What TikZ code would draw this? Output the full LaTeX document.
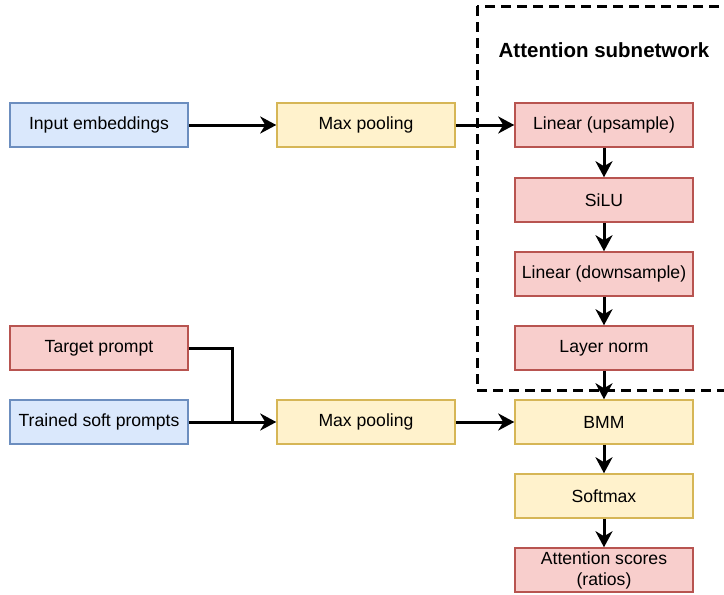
\documentclass[tikz,border=0pt]{standalone}
\usepackage{fontspec}
\setmainfont{Liberation Sans}
\usetikzlibrary{arrows.meta}
\definecolor{bluefill}{HTML}{DAE8FC}
\definecolor{bluedraw}{HTML}{6C8EBF}
\definecolor{yellowfill}{HTML}{FFF2CC}
\definecolor{yellowdraw}{HTML}{D6B656}
\definecolor{redfill}{HTML}{F8CECC}
\definecolor{reddraw}{HTML}{B85450}

\begin{document}
\begin{tikzpicture}[x=1pt, y=-1pt,
              box/.style = {shape=rectangle, draw, line width=1.5pt, minimum width=178pt,
                            minimum height=44pt, inner sep=0pt, align=center,
                            font=\fontsize{17.6}{21}\selectfont},
              bluebox/.style = {box, fill=bluefill, draw=bluedraw},
              yellowbox/.style = {box, fill=yellowfill, draw=yellowdraw},
              redbox/.style = {box, fill=redfill, draw=reddraw},
              flow/.style = {line width=3pt, -{Stealth[length=16pt, width=17pt, inset=5pt]}}]
  \useasboundingbox (0,0) rectangle (724,595);
  % attention subnetwork frame
  \draw[line width=3pt, dash pattern=on 10pt off 6pt] (477,6) rectangle (734,390);
  \node[font=\bfseries\fontsize{20.5}{24}\selectfont] (title) at (604,50) {Attention subnetwork};

  \node[bluebox] (inemb) at (99,125) {Input embeddings};
  \node[redbox] (target) at (99,348) {Target prompt};
  \node[bluebox] (soft) at (99,422) {Trained soft prompts};

  \node[yellowbox] (pool1) at (366,125) {Max pooling};
  \node[yellowbox] (pool2) at (366,422) {Max pooling};

  \node[redbox] (up) at (604,125) {Linear (upsample)};
  \node[redbox] (silu) at (604,200) {SiLU};
  \node[redbox] (down) at (604,274) {Linear (downsample)};
  \node[redbox] (norm) at (604,348) {Layer norm};
  \node[yellowbox] (bmm) at (604,422) {BMM};
  \node[yellowbox] (soft max) at (604,496) {Softmax};
  \node[redbox] (scores) at (604,570) {Attention scores\\(ratios)};

  \coordinate (join) at (232,422);

  \draw[flow] (inemb) -- (pool1);
  \draw[flow] (pool1) -- (up);
  \draw[flow] (up) -- (silu);
  \draw[flow] (silu) -- (down);
  \draw[flow] (down) -- (norm);
  \draw[flow] (norm) -- (bmm);
  \draw[flow] (bmm) -- (soft max);
  \draw[flow] (soft max) -- (scores);
  \draw[line width=3pt] (target.east) -| (join);
  \draw[flow] (soft) -- (pool2);
  \draw[flow] (pool2) -- (bmm);
\end{tikzpicture}
\end{document}
